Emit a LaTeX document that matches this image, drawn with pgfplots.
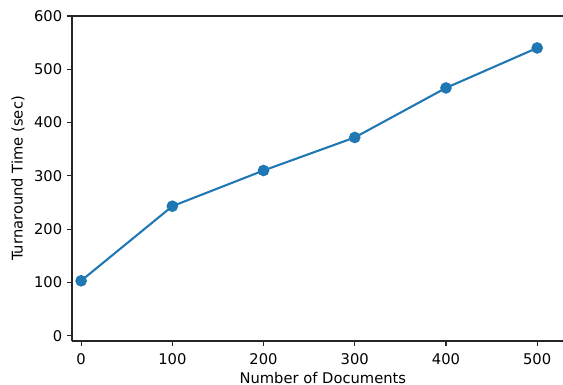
\documentclass[border=0pt]{standalone}
\usepackage{pgfplots}
\pgfplotsset{compat=1.18}
\usepackage{fontspec}
\setmainfont{DejaVu Sans}
\definecolor{mplblue}{HTML}{1F77B4}
\begin{document}
\begin{tikzpicture}
\begin{axis}[
  scale only axis,
  width=361.2pt, height=234pt,
  xmin=-10, xmax=540, ymin=-10, ymax=600,
  axis x line*=bottom, axis y line*=left,
  axis line style={-, line width=0.8pt, black!85},
  xtick={0,100,200,300,400,500},
  ytick={0,100,200,300,400,500,600},
  tick align=outside,
  major tick length=3.5pt,
  tick style={line width=0.8pt, black!85},
  /pgf/number format/assume math mode=true,
  ticklabel style={font=\fontsize{10.6}{12.7}\selectfont},
  xticklabel style={yshift=-2pt},
  label style={font=\fontsize{10.6}{12.7}\selectfont},
  xlabel={Number of Documents},
  ylabel={Turnaround Time (sec)},
  xlabel style={yshift=1.5pt},
  ylabel style={yshift=0pt},
  clip=false,
]
\addplot[mplblue, line width=1.5pt, mark=*, mark size=3.4pt, mark options={solid, fill=mplblue, draw=mplblue}]
  coordinates {(0,103) (100,243) (200,310) (300,372) (400,465) (500,540)};
\draw[line width=0.8pt, black!85] (rel axis cs:0,1) -- (rel axis cs:1,1);
\end{axis}
\pgfresetboundingbox
\useasboundingbox (current axis.south west) ++(-51.84pt,-31.68pt) rectangle ++(405.36pt,277.2pt);
\end{tikzpicture}
\end{document}
